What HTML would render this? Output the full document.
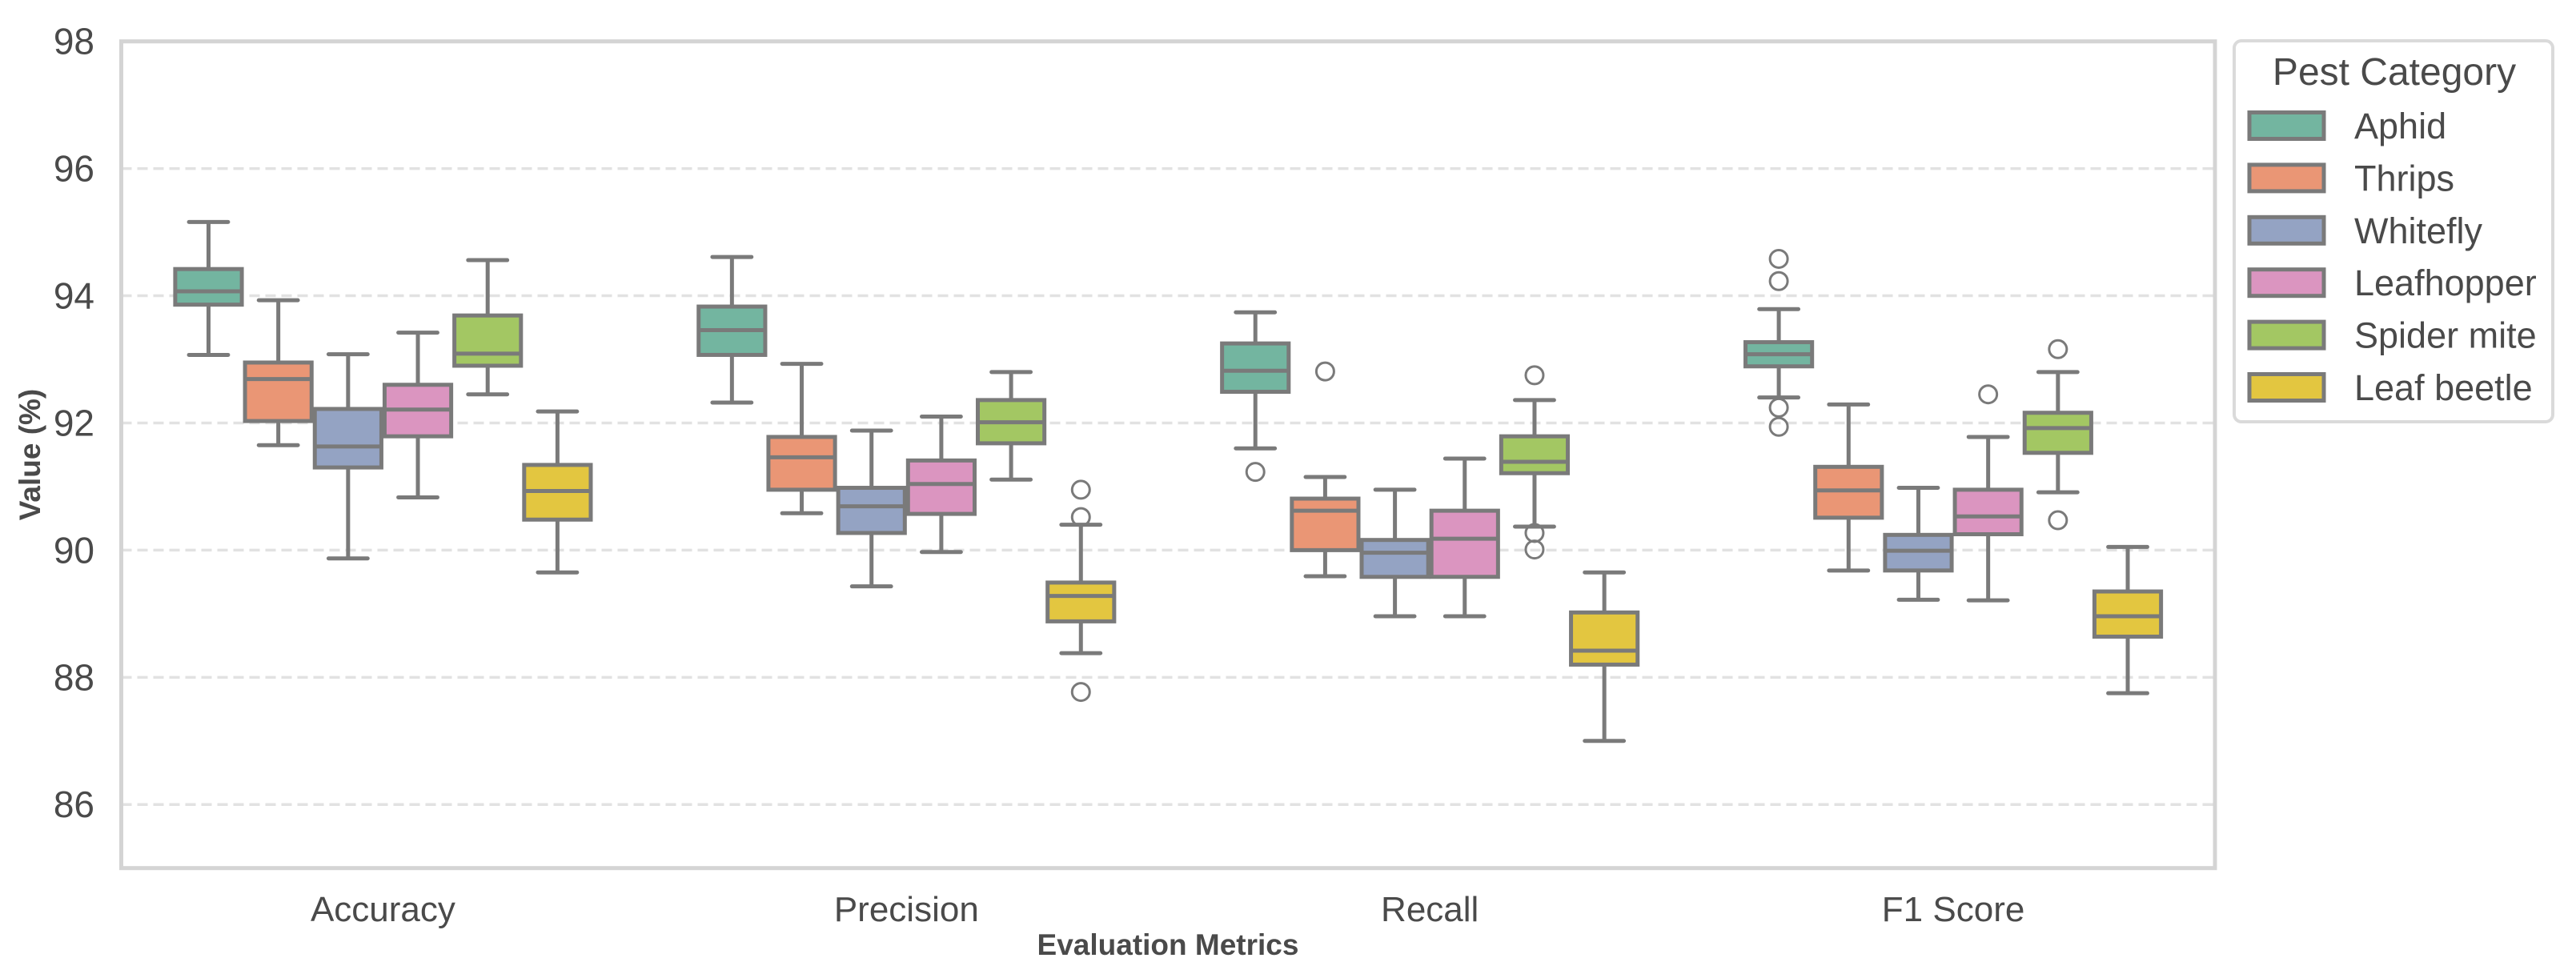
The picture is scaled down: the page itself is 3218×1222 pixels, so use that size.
<!DOCTYPE html>
<html><head><meta charset="utf-8"><style>
html,body{margin:0;padding:0;background:#fff;}
svg{display:block;font-family:"Liberation Sans",Arial,sans-serif;}
</style></head><body>
<svg id="chart" width="3218" height="1222" viewBox="0 0 3218 1222" xmlns="http://www.w3.org/2000/svg">
<rect x="0" y="0" width="3218" height="1222" fill="#fff"/>
<g id="grid"></g>
<g id="boxes"></g>
<rect x="151.5" y="51.7" width="2615.5" height="1033" fill="none" stroke="#d4d4d4" stroke-width="5"/>
<g id="yticks"></g>
<g id="xticks"></g>
<text transform="translate(50,568) rotate(-90)" text-anchor="middle" font-size="37" font-weight="bold" fill="#4a4a4a">Value (%)</text>
<text x="1459" y="1193" text-anchor="middle" font-size="37" font-weight="bold" fill="#4a4a4a">Evaluation Metrics</text>
<g id="legend">
<rect x="2791" y="51" width="398" height="476" rx="9" fill="#fff" stroke="#dadada" stroke-width="4"/>
<text x="2991" y="106" text-anchor="middle" font-size="48" fill="#4a4a4a">Pest Category</text>
</g>
</svg>
<script>
const categories = ["Accuracy","Precision","Recall","F1 Score"];
const pests = ["Aphid","Thrips","Whitefly","Leafhopper","Spider mite","Leaf beetle"];
const colors = ["#73b5a0","#ea9675","#94a3c3","#db95c0","#a3c763","#e3c640"];
const yTicks = [86,88,90,92,94,96,98];
// each stat: [lowWhisker, q1, median, q3, highWhisker]
const accuracyStats = [
 [93.07,93.86,94.07,94.42,95.16],
 [91.65,92.03,92.69,92.95,93.93],
 [89.87,91.30,91.63,92.22,93.08],
 [90.83,91.79,92.21,92.60,93.42],
 [92.45,92.90,93.09,93.69,94.56],
 [89.65,90.48,90.93,91.34,92.18]
];
const precisionStats = [
 [92.32,93.07,93.46,93.83,94.61],
 [90.58,90.95,91.46,91.78,92.93],
 [89.43,90.27,90.69,90.98,91.88],
 [89.97,90.57,91.04,91.41,92.10],
 [91.11,91.68,92.01,92.36,92.80],
 [88.38,88.88,89.28,89.49,90.40]
];
const recallStats = [
 [91.60,92.49,92.82,93.25,93.74],
 [89.59,90.00,90.62,90.81,91.15],
 [88.96,89.58,89.96,90.16,90.95],
 [88.96,89.58,90.18,90.62,91.44],
 [90.37,91.21,91.39,91.79,92.36],
 [87.00,88.20,88.42,89.02,89.65]
];
const f1Stats = [
 [92.40,92.89,93.08,93.27,93.79],
 [89.68,90.51,90.94,91.31,92.29],
 [89.22,89.68,89.99,90.24,90.98],
 [89.21,90.25,90.53,90.95,91.78],
 [90.91,91.53,91.92,92.16,92.80],
 [87.75,88.64,88.96,89.35,90.05]
];
const accuracyOutliers = [[],[],[],[],[],[]];
const precisionOutliers = [[],[],[],[],[],[90.95,90.52,87.77]];
const recallOutliers = [[91.23],[92.81],[],[],[92.75,90.27,90.01],[]];
const f1Outliers = [[94.58,94.23,92.24,91.94],[],[],[92.45],[93.16,90.47],[]];

const allStats = [accuracyStats,precisionStats,recallStats,f1Stats];
const allOutliers = [accuracyOutliers,precisionOutliers,recallOutliers,f1Outliers];

const NS = "http://www.w3.org/2000/svg";
const X0 = 151.5, X1 = 2767, Y0 = 1084.7, Y1 = 51.7, YMIN = 85, YMAX = 98;
const band = (X1 - X0) / categories.length;
const slot = band * 0.8 / pests.length;
function yScale(v){ return Y0 - (v - YMIN) / (YMAX - YMIN) * (Y0 - Y1); }
function xCenter(ci, pi){ return X0 + band * (ci + 0.5) + (pi - (pests.length - 1) / 2) * slot; }
function mk(tag, attrs, parent){ const e = document.createElementNS(NS, tag); for (const k in attrs) e.setAttribute(k, attrs[k]); parent.appendChild(e); return e; }

const grid = document.getElementById('grid');
const yt = document.getElementById('yticks');
yTicks.forEach(t => {
  const y = yScale(t);
  if (t < YMAX) {
    const l = mk('line', {x1: X0, x2: X1, y1: y, y2: y, stroke: '#e2e2e2', 'stroke-width': 3.5, 'stroke-dasharray': '13 7'}, grid);
    
    
  }
  const tx = mk('text', {x: 118, y: y + 16, 'text-anchor': 'end', 'font-size': 46, fill: '#4a4a4a'}, yt);
  tx.textContent = t;
  
  
});

const xt = document.getElementById('xticks');
categories.forEach((c, ci) => {
  const tx = mk('text', {x: X0 + band * (ci + 0.5), y: 1151, 'text-anchor': 'middle', 'font-size': 44, fill: '#4a4a4a'}, xt);
  tx.textContent = c;
  
  
});

const boxes = document.getElementById('boxes');
const LC = '#7a7a7a', LW = 5;
allStats.forEach((stats, ci) => {
  stats.forEach((s, pi) => {
    const cx = xCenter(ci, pi);
    const g = mk('g', {}, boxes);
    
    
    const cap = slot * 0.28;
    mk('line', {x1: cx, x2: cx, y1: yScale(s[0]), y2: yScale(s[1]), stroke: LC, 'stroke-width': LW}, g);
    mk('line', {x1: cx, x2: cx, y1: yScale(s[3]), y2: yScale(s[4]), stroke: LC, 'stroke-width': LW}, g);
    mk('line', {x1: cx - cap, x2: cx + cap, y1: yScale(s[0]), y2: yScale(s[0]), stroke: LC, 'stroke-width': LW, 'stroke-linecap': 'round'}, g);
    mk('line', {x1: cx - cap, x2: cx + cap, y1: yScale(s[4]), y2: yScale(s[4]), stroke: LC, 'stroke-width': LW, 'stroke-linecap': 'round'}, g);
    mk('rect', {x: cx - slot / 2 + 2, y: yScale(s[3]), width: slot - 4, height: yScale(s[1]) - yScale(s[3]), fill: colors[pi], stroke: LC, 'stroke-width': LW}, g);
    mk('line', {x1: cx - slot / 2 + 2, x2: cx + slot / 2 - 2, y1: yScale(s[2]), y2: yScale(s[2]), stroke: LC, 'stroke-width': LW}, g);
    allOutliers[ci][pi].forEach(o => {
      const c = mk('circle', {cx: cx, cy: yScale(o), r: 11, fill: 'none', stroke: LC, 'stroke-width': 3}, g);
      
      
    });
  });
});

const leg = document.getElementById('legend');
pests.forEach((p, pi) => {
  const cy = 157 + pi * 65.4;
  const g = mk('g', {}, leg);
  
  
  mk('rect', {x: 2810, y: cy - 16.5, width: 93, height: 33, fill: colors[pi], stroke: LC, 'stroke-width': 5}, g);
  const t = mk('text', {x: 2941, y: cy + 16, 'font-size': 45, fill: '#4a4a4a'}, g);
  t.textContent = p;
});
</script>
</body></html>
